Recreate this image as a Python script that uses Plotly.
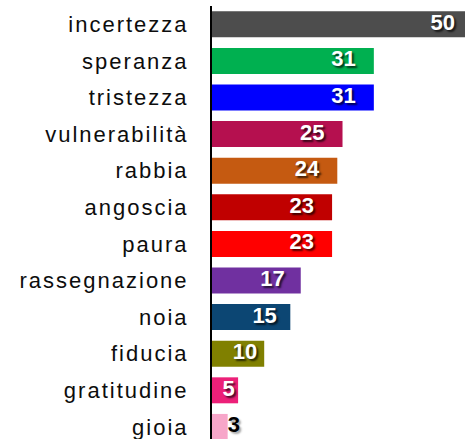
import plotly.graph_objects as go

categories = ["incertezza", "speranza", "tristezza", "vulnerabilità", "rabbia", "angoscia",
              "paura", "rassegnazione", "noia", "fiducia", "gratitudine", "gioia"]
values = [50, 31, 31, 25, 24, 23, 23, 17, 15, 10, 5, 3]
colors = ["#4D4D4D", "#00B050", "#0000FF", "#B5104F", "#C55A11", "#C00000",
          "#FF0000", "#7030A0", "#0C4673", "#808000", "#EC2078", "#F7A6C9"]

X_MAX = 48.46
PX_PER_UNIT = 252 / X_MAX
LABEL_FONT = 22
DIGIT_PX = 0.556 * LABEL_FONT


def inset_units(v):
    bar_px = v * PX_PER_UNIT
    label_px = DIGIT_PX * len(str(v))
    return min(18, 0.25 * (bar_px - label_px)) / PX_PER_UNIT


fig = go.Figure()
fig.add_trace(go.Bar(
    y=categories, x=values, orientation="h",
    marker=dict(color=colors, line=dict(width=0)),
    hoverinfo="skip", showlegend=False,
))

inside = [(c, v) for c, v in zip(categories, values) if v >= 5]
outside = [(c, v) for c, v in zip(categories, values) if v < 5]

fig.add_trace(go.Scatter(
    y=[c for c, v in inside], x=[v - inset_units(v) for c, v in inside],
    mode="text", text=[str(v) for c, v in inside], textposition="middle left",
    textfont=dict(family="Liberation Sans, Arial, sans-serif", size=LABEL_FONT, color="white",
                  weight="bold", shadow="2px 2px 2px rgba(0,0,0,0.7)"),
    hoverinfo="skip", showlegend=False,
))
fig.add_trace(go.Scatter(
    y=[c for c, v in outside], x=[v for c, v in outside],
    mode="text", text=[str(v) for c, v in outside], textposition="middle right",
    textfont=dict(family="Liberation Sans, Arial, sans-serif", size=LABEL_FONT, color="black",
                  weight="bold", shadow="2px 2px 2px rgba(0,0,0,0.35)"),
    hoverinfo="skip", showlegend=False,
))

fig.update_layout(
    width=465, height=439,
    margin=dict(l=212, r=0, t=6, b=0, autoexpand=False),
    paper_bgcolor="white", plot_bgcolor="white",
    bargap=0.29,
    font=dict(family="Liberation Sans, Arial, sans-serif", size=21, color="black"),
    xaxis=dict(range=[0, X_MAX], visible=False, showgrid=False, zeroline=False, fixedrange=True),
    yaxis=dict(type="category", categoryorder="array", categoryarray=categories,
               range=[11.33, -0.5], showline=True, linecolor="black", linewidth=2,
               showgrid=False, zeroline=False, ticks="", ticklabelstandoff=17,
               automargin=False, fixedrange=True,
               tickfont=dict(family="Liberation Sans, Arial, sans-serif", size=22, color="#0d0d0d")),
)

post = """
document.documentElement.style.margin='0';
document.body.style.margin='0';
document.body.style.overflow='hidden';
document.documentElement.style.overflow='hidden';
var gd = document.getElementById('{plot_id}');
function sp(){ gd.querySelectorAll('.ytick text').forEach(function(t){ t.setAttribute('letter-spacing','2px'); }); }
sp(); setTimeout(sp, 50); setTimeout(sp, 300);
"""
fig.write_html("out.html", post_script=post, config={"displayModeBar": False})
